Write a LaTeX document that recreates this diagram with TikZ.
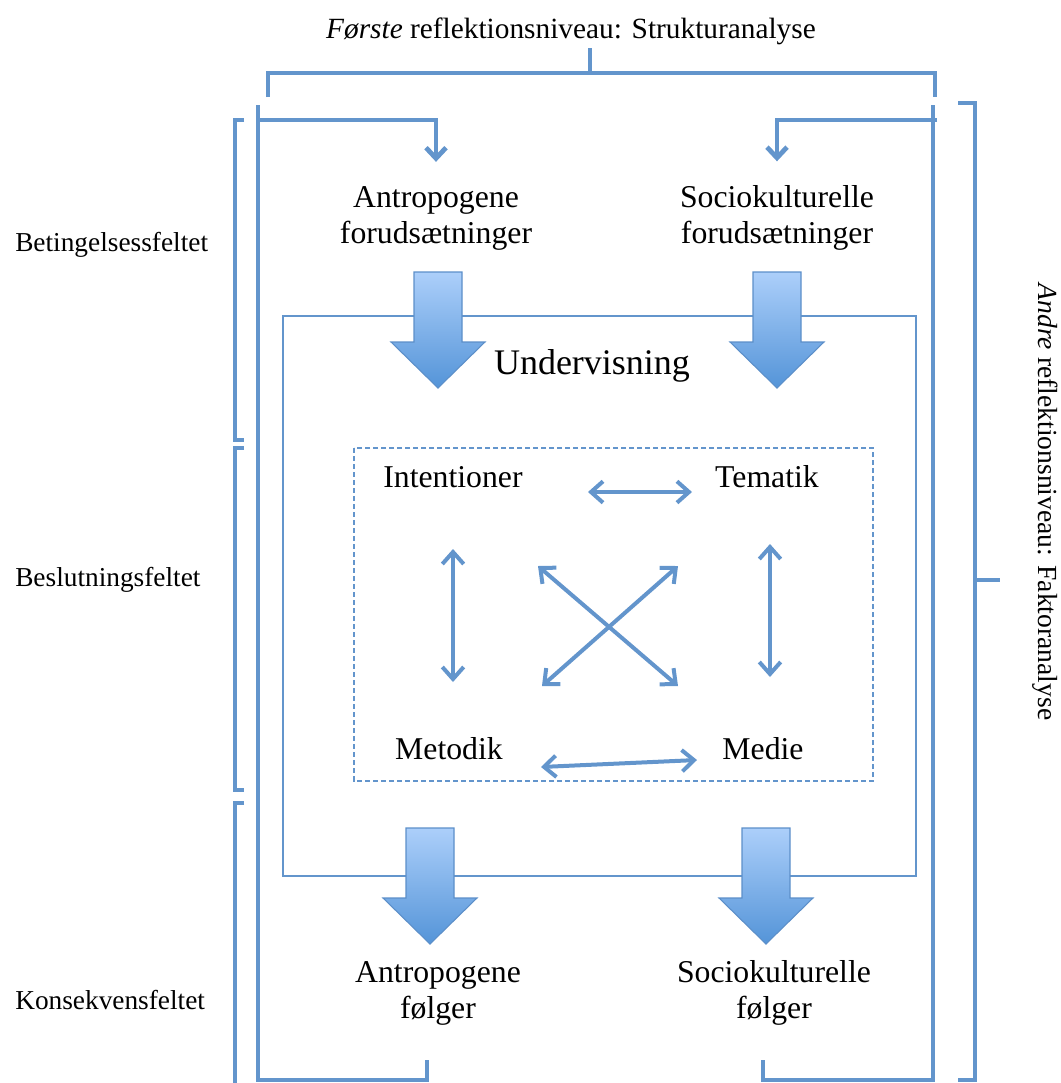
\documentclass[tikz,border=0pt]{standalone}
\usepackage{fontspec}
\setmainfont{Liberation Serif}
\usetikzlibrary{arrows.meta,calc}
\definecolor{lineBlue}{RGB}{99,149,204}
\definecolor{arrTop}{RGB}{172,207,250}
\definecolor{arrBot}{RGB}{84,148,216}
\definecolor{arrEdge}{RGB}{92,143,201}
\newcommand{\labelFont}{\fontsize{23.8}{27}\selectfont}
\newcommand{\fieldFont}{\fontsize{20.5}{24}\selectfont}
\newcommand{\titleFont}{\fontsize{22}{26}\selectfont}
\newcommand{\sideFont}{\fontsize{20.7}{24}\selectfont}
\newcommand{\undervFont}{\fontsize{27}{32}\selectfont}
% big block arrow: centre of shaft, top of shaft
\newcommand{\bigArrow}[2]{\draw[bigarr] (#1-24,#2) -- (#1+24,#2) -- (#1+24,#2+70) -- (#1+47,#2+70) -- (#1,#2+116) -- (#1-47,#2+70) -- (#1-24,#2+70) -- cycle;}

\begin{document}
\begin{tikzpicture}[x=0.75pt, y=-0.75pt,
	lbl/.style={font=\labelFont, align=center, inner sep=0pt},
	field/.style={font=\fieldFont, anchor=west, inner sep=0pt},
	frame/.style={draw=lineBlue, line width=3.6pt},
	brace/.style={draw=lineBlue, line width=3.2pt},
	box/.style={draw=lineBlue, line width=1.1pt},
	dbl/.style={draw=lineBlue, line width=3pt, {Straight Barb[length=9pt,width=16pt]}-{Straight Barb[length=9pt,width=16pt]}},
	down/.style={frame, -{Straight Barb[length=8pt,width=15pt]}},
	bigarr/.style={draw=arrEdge, line width=0.8pt, top color=arrTop, bottom color=arrBot}]
	\useasboundingbox (0,0) rectangle (1061,1083);

	% boxes
	\draw[box] (283,316) rectangle (916,876);
	\draw[box, line width=0.9pt, dash pattern=on 4pt off 2pt] (354,448) rectangle (873,781);

	% texts
	\node[font=\titleFont, inner sep=0pt] (title) at (571,31) {\textit{Første} reflektionsniveau: Strukturanalyse};
	\node[font=\sideFont, inner sep=0pt, rotate=-90] (faktor) at (1045,502) {\textit{Andre} reflektionsniveau: Faktoranalyse};
	\node[field] (beting) at (15,245) {Betingelsessfeltet};
	\node[field] (beslut) at (15,580) {Beslutningsfeltet};
	\node[field] (konsek) at (15,1000) {Konsekvensfeltet};

	\node[lbl] (antrF) at (436,218) {Antropogene\\forudsætninger};
	\node[lbl] (sociF) at (777,218) {Sociokulturelle\\forudsætninger};
	\node[font=\undervFont, inner sep=0pt] (underv) at (592,366) {Undervisning};
	\node[lbl] (int) at (453,477) {Intentioner};
	\node[lbl] (tem) at (767,477) {Tematik};
	\node[lbl] (met) at (449,749) {Metodik};
	\node[lbl] (med) at (763,749) {Medie};
	\node[lbl] (antrK) at (438,993) {Antropogene\\følger};
	\node[lbl] (sociK) at (774,993) {Sociokulturelle\\følger};

	% big arrows
	\bigArrow{438}{272}
	\bigArrow{777}{272}
	\bigArrow{430}{828}
	\bigArrow{766}{828}

	% first level bracket
	\draw[brace] (268,97) -- (268,73) -- (935,73) -- (935,97);
	\draw[brace] (590,73) -- (590,48);
	% outer frame
	\draw[frame] (427,1060) -- (427,1080) -- (258,1080) -- (258,105);
	\draw[frame] (763,1060) -- (763,1080) -- (933,1080) -- (933,105);
	\draw[down] (258,120) -| ([yshift=18pt]antrF.north);
	\draw[down] (937,120) -| ([yshift=18pt]sociF.north);
	% second level bracket
	\draw[brace] (958,103) -- (975,103) -- (975,1080) -- (958,1080);
	\draw[brace] (975,580) -- (1000,580);
	% field brackets
	\draw[brace] (244,120) -- (235,120) -- (235,440) -- (244,440);
	\draw[brace] (244,448) -- (235,448) -- (235,790) -- (244,790);
	\draw[brace] (244,803) -- (235,803) -- (235,1085);

	% relations
	\draw[dbl] ($(int)+(135,15)$) -- ($(tem)+(-75,15)$);
	\draw[dbl] ($(met)+(92,18)$) -- ($(med)+(-66,11)$);
	\draw[dbl] ($(int)+(0,72)$) -- ($(met)+(4,-67)$);
	\draw[dbl] ($(tem)+(3,67)$) -- ($(med)+(7,-72)$);
	\draw[dbl] ($(int)+(85,89)$) -- ($(med)+(-85,-63)$);
	\draw[dbl] ($(met)+(93,-63)$) -- ($(tem)+(-89,89)$);
\end{tikzpicture}
\end{document}
